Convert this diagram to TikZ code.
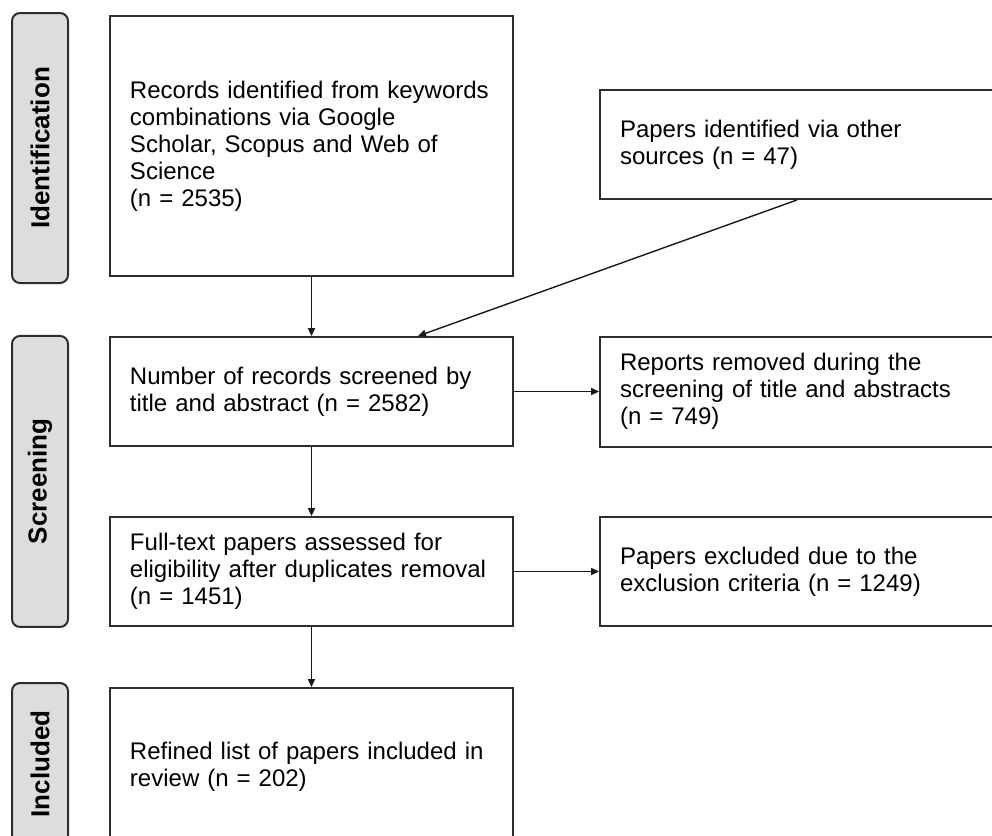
\documentclass[tikz,border=0pt]{standalone}
\usepackage{fontspec}
\setmainfont{Liberation Sans}
\usepackage{tikz}
\usetikzlibrary{positioning, arrows.meta}
\definecolor{sidegray}{RGB}{220,221,222}
\definecolor{linegray}{RGB}{45,45,45}

\begin{document}
\begin{tikzpicture}[
box/.style={rectangle, draw=linegray, line width=1pt, inner xsep=10pt, align=left, font=\fontsize{12}{13.5}\selectfont},
leftbox/.style={box, text width=181.5pt},
rightbox/.style={box, text width=177pt},
stage/.style={rectangle, draw=linegray, line width=1pt, fill=sidegray, rounded corners=4pt, rotate=90, minimum height=0.984cm, font=\fontsize{13}{15}\selectfont\bfseries},
flow/.style={-{Triangle[length=4pt, width=3.6pt]}, line width=0.7pt, draw=black!90},
]
\useasboundingbox (0,0) rectangle (17.433,-14.691);

% Stages
\node[stage, minimum width=4.745cm] (ident) at (0.703,-2.601) {Identification};
\node[stage, minimum width=5.114cm] (screen) at (0.703,-8.461) {Screening};
\node[stage, minimum width=2.847cm] (incl) at (0.703,-13.426) {Included};

% Boxes
\node[leftbox, minimum height=4.569cm] (records) at (5.474,-2.566) {Records identified from keywords\\combinations via Google\\Scholar, Scopus and Web of\\Science\\(n = 2535)};
\node[rightbox, minimum height=1.915cm] (other) at (14.006,-2.539) {Papers identified via other\\sources (n = 47)};
\node[leftbox, minimum height=1.915cm] (screened) at (5.474,-6.880) {Number of records screened by\\title and abstract (n = 2582)};
\node[rightbox, minimum height=1.933cm] (removed) at (14.006,-6.880) {Reports removed during the\\screening of title and abstracts\\(n = 749)};
\node[leftbox, minimum height=1.915cm] (fulltext) at (5.474,-10.043) {Full-text papers assessed for\\eligibility after duplicates removal\\(n = 1451)};
\node[rightbox, minimum height=1.915cm] (excluded) at (14.006,-10.043) {Papers excluded due to the\\exclusion criteria (n = 1249)};
\node[leftbox, minimum height=2.759cm] (refined) at (5.474,-13.470) {Refined list of papers included in\\review (n = 202)};

% Arrows
\draw[flow] (records) -- (screened);
\draw[flow] (other.south) -- ([xshift=1.872cm]screened.north);
\draw[flow] (screened) -- (removed);
\draw[flow] (screened) -- (fulltext);
\draw[flow] (fulltext) -- (excluded);
\draw[flow] (fulltext) -- (refined);

\end{tikzpicture}
\end{document}
